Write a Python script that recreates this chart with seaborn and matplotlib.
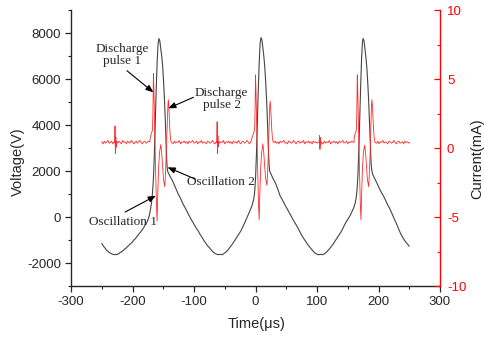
import matplotlib
matplotlib.use("Agg")
import matplotlib.pyplot as plt
from matplotlib.ticker import MultipleLocator
import seaborn as sns

# Voltage trace (V) vs time (us)
volt_t = [-250, -248, -246, -244, -242, -240, -238, -236, -234, -232, -230, -228, -226, -224,
          -222, -220, -218, -216, -214, -212, -210, -207, -204, -201, -198, -195, -192, -189,
          -186, -183, -180, -177, -174, -172, -170.5, -169, -167.5, -166, -164.5, -163, -161.5,
          -160, -158.5, -157, -155.5, -154, -152.5, -151, -149.5, -148, -146.5, -145, -144,
          -143, -141, -138, -135, -132, -129, -126, -123, -120, -117, -114, -111, -108, -105,
          -102, -99, -96, -93, -90, -87, -84, -81, -78, -75, -72, -69, -66, -63, -60, -57, -54,
          -51, -48, -45, -42, -39, -36, -33, -30, -27, -24, -21, -18, -15, -12, -9, -6, -4.5,
          -3, -1.5, 0, 1.5, 3, 4.5, 6, 7.5, 9, 10.5, 12, 13.5, 15, 16.5, 18, 19.5, 21, 22, 23,
          25, 28, 31, 34, 37, 40, 43, 46, 49, 52, 55, 58, 61, 64, 67, 70, 73, 76, 79, 82, 85,
          88, 91, 94, 97, 100, 103, 106, 109, 112, 115, 118, 121, 124, 127, 130, 133, 136, 139,
          142, 145, 148, 151, 154, 157, 160, 162, 163.5, 165, 166.5, 168, 169.5, 171, 172.5,
          174, 175, 176.5, 178, 179.5, 181, 182.5, 184, 185.5, 187, 188, 189, 190.5, 194, 197,
          200, 204, 208, 212, 215, 218, 221, 224, 227, 230, 233, 236, 239, 242, 245, 248, 250]
volt_v = [-1150, -1230, -1310, -1370, -1450, -1480, -1540, -1570, -1600, -1620, -1640, -1620,
          -1640, -1610, -1590, -1540, -1520, -1470, -1430, -1380, -1340, -1260, -1180, -1110,
          -1010, -930, -820, -720, -620, -510, -380, -250, -60, 150, 380, 650, 1050, 1650, 2700,
          4100, 5500, 6700, 7500, 7760, 7650, 7300, 7000, 6550, 5900, 5100, 4100, 2900, 2300,
          2000, 1880, 1720, 1580, 1390, 1210, 1020, 870, 700, 520, 380, 220, 60, -90, -220,
          -360, -500, -610, -760, -880, -1020, -1130, -1250, -1330, -1430, -1520, -1580, -1620,
          -1640, -1620, -1640, -1580, -1520, -1440, -1330, -1230, -1110, -990, -860, -740, -610,
          -450, -280, -100, 90, 275, 470, 620, 760, 1050, 1650, 2700, 4100, 5500, 6700, 7550,
          7800, 7700, 7350, 7000, 6550, 5900, 5100, 4100, 2900, 2300, 2000, 1880, 1700, 1550,
          1380, 1150, 920, 780, 620, 470, 330, 180, 30, -110, -250, -380, -540, -690, -830,
          -960, -1080, -1200, -1300, -1400, -1490, -1570, -1620, -1640, -1620, -1640, -1600,
          -1540, -1450, -1360, -1250, -1150, -1020, -900, -770, -650, -500, -330, -190, -60, 70,
          240, 420, 600, 800, 1150, 1800, 2900, 4300, 5700, 6900, 7650, 7760, 7650, 7300, 6950,
          6500, 5850, 5050, 4000, 2900, 2300, 2050, 1860, 1660, 1500, 1320, 1100, 920, 700, 520,
          380, 200, 20, -160, -340, -540, -720, -870, -1000, -1110, -1210, -1270]

# Current trace (mA) vs time (us)
cur_t = [-250, -248, -246, -244, -242, -240, -238, -236, -234, -232, -230,
         -229, -228.4, -227.8, -227.2, -226.5, -225.6,
         -224, -222, -220, -218, -216, -214, -212, -210, -208, -206, -204, -202, -200, -198,
         -196, -194, -192, -190, -188, -186, -184, -182, -180, -178, -176, -174, -172,
         -170.5, -169, -167.5, -166.8, -166, -165.2, -164, -162.5, -161, -160, -159, -157.5,
         -156, -154, -152.5, -151, -149.5, -147.5, -146.3, -145, -143.5, -142.5, -141.8,
         -141, -140.2, -139.3, -138.3, -137.3,
         -136, -134, -132, -130, -128, -126, -124, -122, -120, -118, -116, -114, -112, -110,
         -108, -106, -104, -102, -100, -98, -96, -94, -92, -90, -88, -86, -84, -82, -80, -78,
         -76, -74, -72, -70, -68, -66, -64,
         -63, -62.4, -61.8, -61.2, -60.5, -59.6,
         -58, -56, -54, -52, -50, -48, -46, -44, -42, -40, -38, -36, -34, -32, -30, -28, -26,
         -24, -22, -20, -18, -16, -14, -12, -10, -8,
         -4.5, -3, -1.5, -0.8, 0, 0.8, 2, 3.5, 5, 6, 7, 8.5, 10, 12, 13.5, 15, 16.5, 18.5,
         19.7, 21, 22, 23, 23.8, 24.6, 25.5, 26.5, 27.5, 28.5,
         30, 32, 34, 36, 38, 40, 42, 44, 46, 48, 50, 52, 54, 56, 58, 60, 62, 64, 66, 68, 70,
         72, 74, 76, 78, 80, 82, 84, 86, 88, 90, 92, 94, 96, 98, 100, 102,
         103.5, 104.2, 104.8, 105.4, 106, 107,
         108, 110, 112, 114, 116, 118, 120, 122, 124, 126, 128, 130, 132, 134, 136, 138, 140,
         142, 144, 146, 148, 150, 152, 154, 156, 158, 160,
         161, 162.5, 164, 164.7, 165.5, 166.3, 167.5, 169, 170.5, 171.5, 172.5, 174, 175.5,
         177.5, 179, 180.5, 182, 184, 185.2, 186.5, 187.5, 188.5, 189.3, 190.1, 191, 192,
         193, 194,
         195, 197, 199, 201, 203, 205, 207, 209, 211, 213, 215, 217, 219, 221, 223, 225, 227,
         229, 231, 233, 235, 237, 239, 241, 243, 245, 247, 249, 251]
cur_i = [0.45, 0.30, 0.50, 0.35, 0.45, 0.55, 0.35, 0.40, 0.50, 0.30, 0.45,
         0.40, 1.60, -0.40, 0.80, 0.05, 0.50,
         0.35, 0.50, 0.40, 0.30, 0.55, 0.40, 0.45, 0.30, 0.50, 0.40, 0.35, 0.55, 0.45, 0.30,
         0.40, 0.50, 0.35, 0.45, 0.55, 0.40, 0.30, 0.45, 0.50, 0.35, 0.40, 0.50, 0.45,
         0.9, 1.1, 1.3, 2.5, 5.4, 4.2, 1.5, -1.5, -4.2, -5.3, -3.4, -1.4, -0.3, 0.25, -0.4,
         -1.4, -2.3, -2.8, -1.8, -0.2, 1.5, 3.0, 3.5, 3.1, 2.2, 1.3, 0.7, 0.45,
         0.40, 0.30, 0.50, 0.35, 0.45, 0.40, 0.55, 0.30, 0.45, 0.40, 0.50, 0.35, 0.45, 0.30,
         0.50, 0.40, 0.45, 0.55, 0.35, 0.40, 0.50, 0.30, 0.45, 0.40, 0.55, 0.35, 0.45, 0.40,
         0.30, 0.50, 0.45, 0.35, 0.40, 0.55, 0.40, 0.30, 0.45,
         0.40, 1.90, -0.40, 0.90, 0.10, 0.50,
         0.35, 0.45, 0.40, 0.55, 0.30, 0.45, 0.40, 0.50, 0.35, 0.45, 0.30, 0.50, 0.40, 0.45,
         0.35, 0.55, 0.40, 0.30, 0.45, 0.50, 0.35, 0.40, 0.55, 0.45, 0.30, 0.40,
         0.9, 1.1, 1.3, 2.5, 5.3, 4.1, 1.5, -1.5, -4.2, -5.2, -3.4, -1.4, -0.3, 0.3, -0.4,
         -1.4, -2.2, -2.7, -1.8, -0.2, 1.4, 2.9, 3.4, 3.0, 2.2, 1.3, 0.7, 0.45,
         0.40, 0.50, 0.35, 0.45, 0.30, 0.50, 0.40, 0.45, 0.55, 0.35, 0.40, 0.30, 0.50, 0.45,
         0.35, 0.40, 0.55, 0.40, 0.30, 0.45, 0.50, 0.35, 0.45, 0.40, 0.55, 0.30, 0.45, 0.40,
         0.50, 0.35, 0.45, 0.30, 0.50, 0.40, 0.45, 0.35, 0.40,
         0.45, 0.90, -0.10, 0.75, 0.20, 0.45,
         0.40, 0.30, 0.50, 0.35, 0.45, 0.40, 0.55, 0.30, 0.45, 0.40, 0.50, 0.35, 0.45, 0.30,
         0.50, 0.40, 0.45, 0.55, 0.35, 0.40, 0.50, 0.30, 0.45, 0.40, 0.50, 0.45, 0.40,
         0.9, 1.1, 1.3, 2.5, 5.3, 4.1, 1.5, -1.5, -4.2, -5.2, -3.4, -1.4, -0.3, 0.2, -0.4,
         -1.4, -2.3, -2.8, -1.8, -0.2, 1.5, 3.0, 3.5, 3.1, 2.2, 1.3, 0.7, 0.45,
         0.40, 0.35, 0.50, 0.30, 0.45, 0.40, 0.55, 0.35, 0.45, 0.40, 0.30, 0.50, 0.45, 0.35,
         0.40, 0.55, 0.40, 0.30, 0.45, 0.50, 0.35, 0.40, 0.45, 0.30, 0.50, 0.40, 0.45, 0.35,
         0.40]

sns.set_style("ticks")
plt.rcParams["font.family"] = ["Liberation Sans", "DejaVu Sans"]
plt.rcParams["axes.unicode_minus"] = False

fig, ax = plt.subplots(figsize=(4.84, 3.38), dpi=100)
fig.subplots_adjust(left=0.1467, right=0.9091, top=0.9704, bottom=0.1538)

sns.lineplot(x=volt_t, y=volt_v, ax=ax, color="#444444", linewidth=0.8,
             estimator=None, sort=False)
ax2 = ax.twinx()
sns.lineplot(x=cur_t, y=cur_i, ax=ax2, color="#ff2a2a", linewidth=0.6,
             estimator=None, sort=False)

ax.set_xlim(-300, 300)
ax.set_ylim(-3000, 9000)
ax2.set_ylim(-10, 10)
ax.xaxis.set_major_locator(MultipleLocator(100))
ax.xaxis.set_minor_locator(MultipleLocator(50))
ax.yaxis.set_major_locator(MultipleLocator(2000))
ax.yaxis.set_minor_locator(MultipleLocator(1000))
ax2.yaxis.set_major_locator(MultipleLocator(5))
ax2.yaxis.set_minor_locator(MultipleLocator(2.5))

for s in ["top", "right"]:
    ax.spines[s].set_visible(False)
for s in ["top", "left", "bottom"]:
    ax2.spines[s].set_visible(False)
ax.spines["left"].set_linewidth(1.0)
ax.spines["bottom"].set_linewidth(1.0)
ax2.spines["right"].set_color("red")
ax2.spines["right"].set_linewidth(1.0)

ax.tick_params(which="major", direction="out", length=4, width=0.9, labelsize=9.5, pad=3)
ax.tick_params(which="minor", direction="out", length=2.5, width=0.8)
ax2.tick_params(axis="y", which="major", direction="in", length=4, width=0.9,
                colors="red", labelsize=9.5, pad=5)
ax2.tick_params(axis="y", which="minor", direction="in", length=2.5, width=0.8, colors="red")

ax.set_xlabel("Time(μs)", fontsize=10.5)
ax.set_ylabel("Voltage(V)", fontsize=10.5)
ax2.set_ylabel("Current(mA)", fontsize=10.5, color="#222222")
ax.xaxis.set_label_coords(0.504, -0.113)
ax.yaxis.set_label_coords(-0.124, 0.45)
ax2.yaxis.set_label_coords(1.083, 0.46)

# annotations
serif = dict(family=["Liberation Serif", "DejaVu Serif"], fontsize=9.5,
             ha="center", va="center")
arrow = dict(arrowstyle="-|>,head_length=0.45,head_width=0.18", color="black",
             lw=0.8, shrinkA=0, shrinkB=0)
ax.text(-217, 7065, "Discharge\npulse 1", linespacing=1.0, **serif)
ax.annotate("", xy=(-166, 5420), xytext=(-209, 6360), arrowprops=arrow)
ax.text(-55, 5130, "Discharge\npulse 2", linespacing=1.0, **serif)
ax.annotate("", xy=(-142, 4726), xytext=(-101, 5204), arrowprops=arrow)
ax.text(-57, 1509, "Oscillation 2", **serif)
ax.annotate("", xy=(-143, 2160), xytext=(-98, 1650), arrowprops=arrow)
ax.text(-215, -230, "Oscillation 1", **serif)
ax.annotate("", xy=(-162, 926), xytext=(-212, 217), arrowprops=arrow)

fig.savefig("out.png", dpi=100)
